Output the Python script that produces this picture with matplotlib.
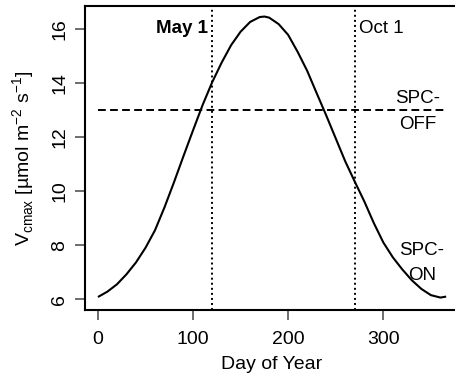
import matplotlib
matplotlib.use("Agg")
import matplotlib.pyplot as plt

plt.rcParams['font.family'] = ['Liberation Sans', 'DejaVu Sans']

# Data
days = [1, 10, 20, 30, 40, 50, 60, 70, 80, 90, 100, 110, 120, 130, 140, 150,
        160, 170, 175, 180, 190, 200, 210, 220, 230, 240, 250, 260, 270, 280,
        290, 300, 310, 320, 330, 340, 350, 360, 365]
vcmax = [6.10, 6.28, 6.55, 6.92, 7.36, 7.90, 8.55, 9.40, 10.33, 11.3, 12.25,
         13.18, 14.02, 14.75, 15.4, 15.9, 16.26, 16.44, 16.46, 16.42, 16.18,
         15.78, 15.15, 14.45, 13.62, 12.8, 11.95, 11.1, 10.35, 9.62, 8.82, 8.1,
         7.55, 7.1, 6.7, 6.38, 6.15, 6.06, 6.09]
threshold = 13.0
may1_day = 120
oct1_day = 270
xticks = [0, 100, 200, 300]
yticks = [6, 8, 10, 12, 14, 16]

fig = plt.figure(figsize=(4.56, 3.81), dpi=100)
ax = fig.add_axes([85/456, 1-310/381, (459-85)/456, 304/381])

ax.plot(days, vcmax, color='black', lw=1.5, solid_joinstyle='round')
ax.plot([0, days[-1]], [threshold, threshold], color='black', lw=1.4, dashes=(4, 2.2))
ax.axvline(may1_day, color='black', lw=1.4, dashes=(1, 1.6))
ax.axvline(oct1_day, color='black', lw=1.4, dashes=(1, 1.6))

ax.set_xlim(-13.56, 379.56)
ax.set_ylim(5.6, 16.85)
ax.set_xticks(xticks)
ax.set_yticks(yticks)
ax.set_yticklabels([str(v) for v in yticks], rotation=90, va='center')
ax.tick_params(axis='both', direction='out', length=7, width=1.2, color='#555555',
               labelsize=14)
ax.tick_params(axis='x', pad=8)
ax.tick_params(axis='y', pad=5)
for s in ax.spines.values():
    s.set_linewidth(1.5)

ax.set_xlabel('Day of Year', fontsize=14, labelpad=6)
ax.set_ylabel(r'V$_{\mathregular{cmax}}$ [µmol m$^{\mathregular{-2}}$ s$^{\mathregular{-1}}$]',
              fontsize=14, labelpad=10)

ax.text(116, 16.0, 'May 1', fontsize=13.5, fontweight='bold', ha='right', va='center')
ax.text(274, 16.0, 'Oct 1', fontsize=13.5, ha='left', va='center')
ax.text(336, 13.43, 'SPC-', fontsize=13.5, ha='center', va='center')
ax.text(336, 12.48, 'OFF', fontsize=13.5, ha='center', va='center')
ax.text(340, 7.81, 'SPC-', fontsize=13.5, ha='center', va='center')
ax.text(341, 6.89, 'ON', fontsize=13.5, ha='center', va='center')

fig.savefig('out.png', dpi=100)
